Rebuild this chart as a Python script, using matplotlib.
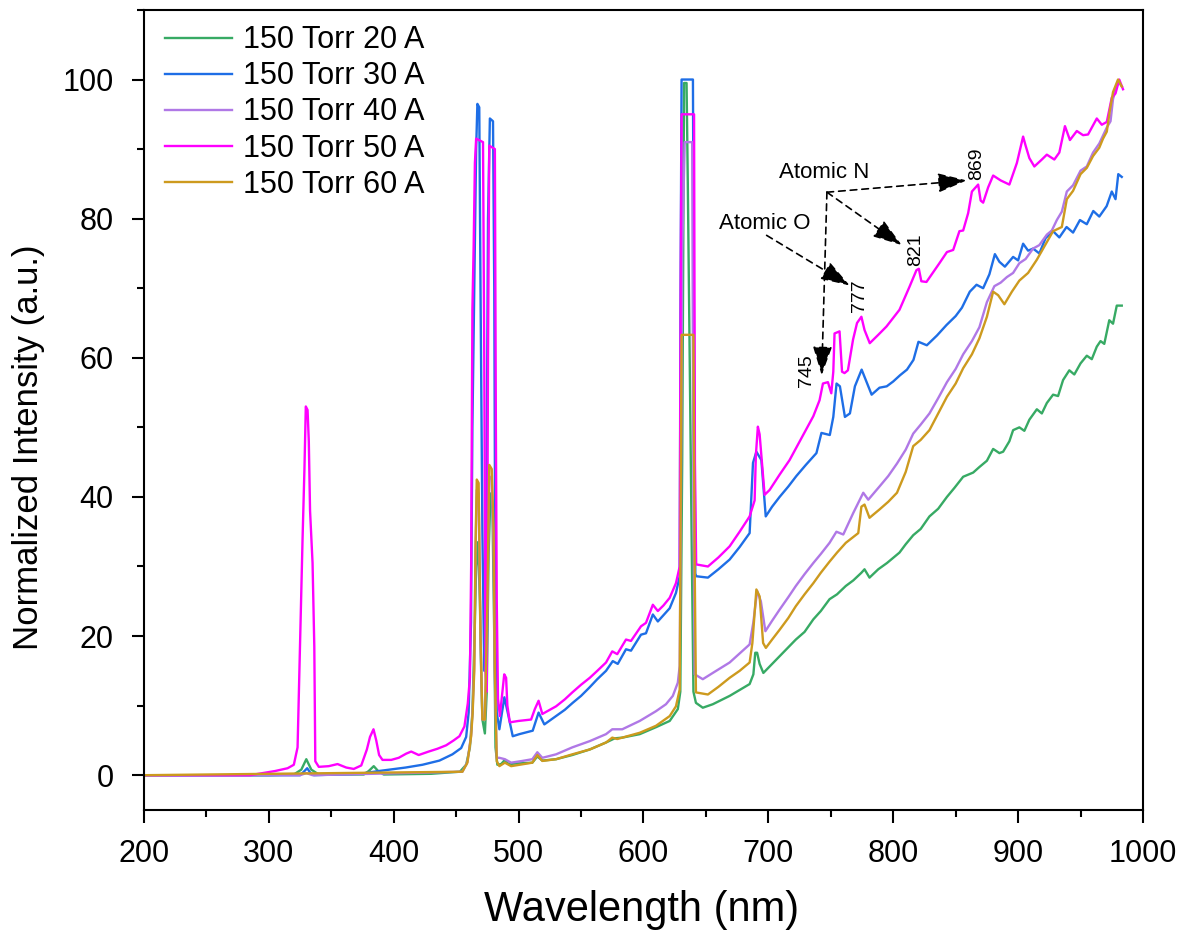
import matplotlib
matplotlib.use('Agg')
import matplotlib.pyplot as plt
from matplotlib.ticker import MultipleLocator

plt.rcParams['font.family'] = ['Liberation Sans', 'DejaVu Sans']

# (wavelength nm, normalized intensity)
spec_20A = [(200, 0), (300, 0), (320, 0.1), (326, 0.8), (330, 2.3), (334, 0.8), (340, 0.1), (376, 0.1), (380, 0.6),
            (384, 1.3), (388, 0.5), (392, 0.1), (430, 0.2), (445, 0.4), (453, 0.5), (458, 1.5), (461, 4), (463, 9),
            (465, 22), (466, 30), (467.5, 33.5), (469, 25), (470, 15), (471, 8), (473, 6), (474.5, 12), (476, 32),
            (477.5, 40.5), (479, 39), (480.5, 20), (481.5, 4), (483, 1.5), (486, 1.6), (489, 2.2), (492, 1.6),
            (500, 1.7), (511, 1.8), (515, 2.7), (519, 2.1), (530, 2.3), (543, 2.9), (557, 3.7), (570, 4.7),
            (577, 5.3), (583, 5.4), (597, 5.9), (610, 6.9), (621, 7.8), (627.5, 9.5), (629.5, 12), (631, 45),
            (632.5, 99.5), (634.5, 99.5), (635.5, 85), (637, 60), (638.5, 35), (640, 12), (642, 10.4), (647.5, 9.7),
            (655.5, 10.2), (669, 11.4), (685, 13.1), (688, 14.5), (689.5, 17.6), (691, 17.6), (693, 16), (696, 14.7),
            (709, 17.1), (722, 19.5), (729, 20.6), (736, 22.4), (742, 23.6), (749, 25.3), (755, 26), (762, 27.2),
            (768, 28), (774.5, 29.1), (777, 29.6), (781, 28.4), (788, 29.6), (795, 30.5), (805, 32), (810, 33.2),
            (816, 34.5), (822, 35.4), (829, 37.2), (836, 38.3), (843, 40), (849, 41.3), (856, 42.9), (864, 43.5),
            (869, 44.3), (875, 45.2), (880, 46.9), (885, 46.3), (888, 46.5), (893, 48), (896, 49.6), (901, 50),
            (905, 49.5), (909, 51.1), (915, 52.6), (919, 52), (923, 53.5), (928, 54.7), (932, 54.5), (936, 56.8),
            (941, 58.2), (945, 57.6), (950, 59.2), (955, 60.3), (959, 59.8), (963, 61.6), (966, 62.4), (969, 62),
            (973, 65.4), (976, 64.9), (979, 67.5), (983, 67.5)]

spec_30A = [(200, 0), (325, 0), (328, 0.5), (330.7, 1.0), (333, 0.4), (336, 0), (373, 0.2), (388, 0.6), (409.5, 1.1),
            (423, 1.5), (436.6, 2.1), (447, 3.0), (454, 3.9), (458, 5.5), (460, 9), (461.9, 22), (463, 50),
            (464.5, 70), (466, 90), (467, 96.5), (468.5, 96), (469.5, 70), (471, 35), (472.5, 15), (474, 30),
            (475.5, 80), (477, 94.4), (479.5, 94), (480.5, 70), (481.5, 20), (482.5, 9), (484.6, 6.6),
            (488.6, 11.2), (491.3, 9), (495.3, 5.6), (500.6, 5.9), (511.3, 6.4), (516, 9), (520.6, 7.3), (530, 8.5),
            (537, 9.4), (543.3, 10.4), (550, 11.4), (556.7, 12.6), (563, 13.8), (570, 15), (575.4, 16.4),
            (579.4, 16), (586, 18.1), (590, 17.9), (598, 20.2), (602, 20.4), (607.5, 23.1), (611.5, 22.1), (616, 23),
            (621, 24), (626, 26.2), (629, 28.6), (629.6, 66), (630.5, 100), (639.6, 100), (640.5, 60), (641.5, 29),
            (642.2, 28.6), (651.6, 28.4), (660, 29.6), (669, 31), (677, 32.8), (685, 34.8), (687.7, 44.9),
            (690.4, 46.5), (694.4, 45.3), (697.9, 37.2), (703, 38.6), (709, 40), (716, 41.5), (722.4, 43),
            (730, 44.6), (738.5, 46.3), (742.5, 49.2), (749.2, 48.9), (752, 51.5), (754.6, 56.3), (757.3, 55.9),
            (761.3, 51.5), (765.3, 52), (769.3, 55.9), (774.7, 58.3), (782.7, 54.7), (789, 55.7), (794.8, 55.9),
            (800, 56.6), (805.5, 57.5), (811, 58.3), (816.2, 59.7), (820.2, 62.3), (826.9, 61.8), (835, 63.2),
            (842.6, 64.7), (850, 66), (855, 67.2), (861.3, 69.5), (866.7, 70.5), (872, 70), (877, 72), (881.4, 74.9),
            (885, 73.8), (889.4, 73.1), (896, 74.5), (900, 74), (904, 76.4), (908, 75.4), (912, 75.7), (917, 75),
            (922, 77.2), (928, 78.2), (933, 77.3), (938.8, 78.8), (944, 78), (949.5, 79.8), (955, 79.2),
            (960.2, 81.1), (965, 80.3), (970.9, 81.8), (975, 83.9), (978, 82.8), (980.2, 86.4), (983, 86)]

spec_40A = [(200, 0), (325, 0), (330, 0.3), (335, 0), (455, 0.5), (459, 1.9), (462, 5.8), (463.2, 9.5), (464.5, 16),
            (465.5, 32), (466.5, 41), (468, 40.5), (469.5, 20), (471, 8), (473, 8), (475, 25), (476.5, 43),
            (478.5, 42.5), (480, 33), (481, 14), (482.5, 2.5), (484.6, 2.5), (489, 2.3), (494, 1.8), (503, 2.05),
            (511, 2.3), (515, 3.3), (519, 2.5), (530, 3.0), (543, 4.0), (557, 4.9), (570, 5.9), (575, 6.6),
            (583, 6.6), (597, 7.8), (610, 9.2), (618, 10.2), (623.5, 11.4), (627.5, 13.3), (629, 15.7), (630, 40),
            (631, 75), (633, 91), (639, 91), (640, 40), (641, 14.5), (647.5, 13.8), (655.5, 14.7), (669, 16.2),
            (685, 18.8), (688, 22), (691, 26.5), (694, 25), (697.6, 20.7), (703, 22.2), (709, 23.8), (716, 25.6),
            (722, 27.2), (729, 28.9), (736, 30.5), (742, 31.8), (749, 33.4), (754.5, 35), (760, 34.6), (768, 37.7),
            (776, 40.6), (780, 39.6), (789, 41.5), (796, 43), (803, 44.8), (810, 46.8), (816, 49.1), (822, 50.4),
            (829, 52), (836, 54.2), (843, 56.5), (850, 58.4), (856, 60.5), (863, 62.4), (869, 64.4), (875, 68),
            (881, 70.3), (886, 70.8), (891, 71.6), (896, 72.2), (901, 73.6), (906, 74.2), (912, 75.7), (917, 76.2),
            (923, 77.7), (927, 78.3), (931, 79.8), (935, 81), (939, 83.9), (944, 84.8), (950, 86.9), (955, 87.5),
            (960, 89.5), (965, 90.8), (971, 93.1), (974, 94), (976, 97.2), (980, 99.8), (983, 99)]

spec_50A = [(200, 0), (285, 0), (295, 0.3), (305, 0.6), (315, 1.0), (320, 1.5), (323, 4), (325, 19), (327, 34),
            (328.5, 44), (329.6, 53), (331, 52.5), (332, 48), (333, 38), (335, 30.5), (336.4, 18.5), (337.2, 2),
            (340, 1.2), (348, 1.3), (355, 1.6), (362, 1.1), (368, 0.9), (374, 1.4), (378.5, 3.7), (381, 5.5),
            (383.8, 6.6), (386, 5), (388.3, 2.9), (391, 2.2), (398, 2.2), (404, 2.5), (410, 3.1), (414, 3.4),
            (420, 2.9), (428, 3.4), (435, 3.8), (442, 4.3), (448, 5), (452.6, 5.6), (456.6, 7), (459.3, 10.3),
            (461, 14), (462, 30), (463, 67), (464, 76), (465, 88), (466, 91.5), (471.5, 91), (472.5, 60),
            (473.5, 15), (474.5, 12), (475.5, 60), (476.5, 90.5), (481, 90), (481.8, 50), (482.5, 25), (483.5, 11),
            (485, 8.5), (487, 12), (488.5, 14.5), (490, 14), (491, 10), (493, 7.6), (500, 7.8), (510, 8), (513, 9.5),
            (516, 10.7), (519, 8.8), (530, 9.9), (537, 10.9), (543, 11.9), (550, 13), (557, 14), (563, 15),
            (570, 16.2), (575, 17.8), (579, 17.4), (586, 19.5), (590, 19.3), (598, 21.4), (602, 21.9), (607.5, 24.5),
            (611.5, 23.6), (616, 24.4), (621, 25.5), (626, 27.6), (629, 30), (629.8, 70), (630.5, 95), (640.5, 95),
            (641.2, 45), (642.2, 30.3), (651.6, 30), (660, 31.3), (669, 32.9), (677, 35), (685, 37.2), (689, 39.5),
            (690, 46), (691.6, 50.1), (693, 49), (694.5, 45.7), (697, 40.3), (701, 41), (709, 43.2), (717, 45.3),
            (727, 48.6), (736, 51.6), (741, 53.9), (743.7, 56.3), (747.7, 56.5), (750.4, 54.9), (752, 58),
            (753, 63.5), (757, 63.8), (759, 58), (761, 57.8), (763.7, 58.2), (767.8, 62.6), (771, 65), (774.5, 65.9),
            (777, 64), (781.2, 62.1), (788, 63.3), (794.6, 64.5), (805, 66.9), (813, 70.2), (818.6, 72.6),
            (820.5, 72.8), (822.5, 71), (826.6, 70.9), (832, 72.3), (837, 73.6), (843, 75.2), (848, 75.5),
            (853, 78.2), (856, 78.3), (860, 80.8), (863, 83.9), (866, 84.5), (868, 84.9), (870, 82.6), (872, 82.3),
            (876, 84.5), (880, 86.2), (886, 85.5), (893, 84.9), (899, 88), (904, 91.8), (906, 90.5), (909, 88.7),
            (913, 87.5), (919, 88.5), (923, 89.2), (929, 88.5), (933, 89.5), (937.5, 93.3), (941.5, 91.3),
            (947, 92.6), (952, 92), (956, 92.1), (963, 94.4), (967, 93.5), (971, 93.9), (975, 97.4), (978, 98),
            (981, 100), (984, 98.6)]

spec_60A = [(200, 0), (455, 0.5), (459, 1.8), (462, 5.6), (463.2, 9), (464.5, 15), (465.5, 33), (466.5, 42.5),
            (468, 42), (469.5, 20), (471, 8), (473, 8), (475, 25), (476.5, 44.6), (478.5, 44), (480, 35), (481, 15),
            (482.5, 2), (484.6, 1.3), (489, 1.8), (494, 1.3), (511, 1.8), (515, 2.9), (519, 2.05), (530, 2.3),
            (543, 3.0), (557, 3.7), (570, 4.7), (575, 5.4), (579, 5.2), (597, 6.1), (610, 7.1), (621, 8.5),
            (626, 9.9), (629, 12.3), (629.8, 40), (630.5, 63.3), (640, 63.3), (641, 30), (642, 11.9), (651.6, 11.6),
            (660, 12.7), (669, 14), (677, 15), (685, 16.2), (687.2, 19), (690.4, 26.7), (693, 25.7), (695.8, 19),
            (698, 18.3), (703, 19.5), (709, 20.9), (716, 22.6), (722, 24.3), (729, 26), (736, 27.6), (742, 29.1),
            (749, 30.7), (755, 32), (762, 33.4), (772, 34.8), (774.5, 38.6), (777, 38.9), (781, 37), (789, 38.2),
            (796, 39.3), (803, 40.6), (810, 43.6), (816, 47.3), (822, 48.2), (829, 49.6), (836, 52), (843, 54.4),
            (850, 56.3), (856, 58.5), (863, 60.5), (869, 62.8), (875, 65.9), (880, 69.5), (884, 69), (889, 67.7),
            (895, 69.5), (901, 71.1), (908, 72.2), (915, 74.1), (921, 76), (928, 78.2), (935, 78.8), (939, 82.8),
            (944, 84), (950, 86.4), (955, 87.3), (960, 89), (965, 90.2), (968, 91.5), (971, 92.5), (973.5, 95.6),
            (976, 98.2), (980, 100), (983, 99)]

series = [spec_20A, spec_30A, spec_40A, spec_50A, spec_60A]
labels = ['150 Torr 20 A', '150 Torr 30 A', '150 Torr 40 A', '150 Torr 50 A', '150 Torr 60 A']
colors = ['#37aa64', '#1e6ee6', '#b078e6', '#ff00ff', '#cd9a1e']

fig = plt.figure(figsize=(11.82, 9.39), dpi=100)
ax = fig.add_axes([0.1218, 0.1374, 0.8452, 0.852])

for data, lab, col in zip(series, labels, colors):
    x_values = [item[0] for item in data]
    y_values = [item[1] for item in data]
    ax.plot(x_values, y_values, color=col, linewidth=1.7, label=lab)

ax.set_xlim(200, 1000)
ax.set_ylim(-5, 110)
ax.xaxis.set_major_locator(MultipleLocator(100))
ax.xaxis.set_minor_locator(MultipleLocator(50))
ax.yaxis.set_major_locator(MultipleLocator(20))
ax.yaxis.set_minor_locator(MultipleLocator(10))
ax.tick_params(which='both', direction='out', width=1.5, labelsize=22, top=False, right=False)
ax.tick_params(which='major', length=9)
ax.tick_params(which='minor', length=5)
ax.tick_params(axis='x', which='major', pad=12)
ax.tick_params(axis='y', which='major', pad=13)
for sp in ax.spines.values():
    sp.set_linewidth(1.5)

ax.set_xlabel('Wavelength (nm)', fontsize=30)
ax.set_ylabel('Normalized Intensity (a.u.)', fontsize=25)
ax.xaxis.set_label_coords(0.498, -0.1)
ax.yaxis.set_label_coords(-0.099, 0.454)

ax.legend(loc='upper left', bbox_to_anchor=(0.006, 1.0), frameon=False, fontsize=22,
          handlelength=2.2, handletextpad=0.35, labelspacing=0.2, borderaxespad=0.1)

# peak annotations
arrow = dict(arrowstyle='-|>,head_length=0.9,head_width=0.3', linestyle=(0, (4, 3)),
             color='black', lw=1.2, mutation_scale=20, shrinkA=0, shrinkB=0)
ax.text(745, 86.7, 'Atomic N', fontsize=16, ha='center', va='center')
ax.text(697, 79.3, 'Atomic O', fontsize=16, ha='center', va='center')
for tip in [(858.9, 85.5), (806.8, 76.2), (742.7, 57.5)]:
    ax.annotate('', xy=tip, xytext=(746.9, 83.8), arrowprops=arrow)
ax.annotate('', xy=(765.1, 70.4), xytext=(698.6, 77.6), arrowprops=arrow)
for txt, xy in [('869', (866.9, 87.9)), ('821', (818, 75.5)), ('777', (773.1, 68.9)), ('745', (730.6, 58.2))]:
    ax.text(xy[0], xy[1], txt, fontsize=14, rotation=90, ha='center', va='center')

fig.savefig('out.png', dpi=100)
